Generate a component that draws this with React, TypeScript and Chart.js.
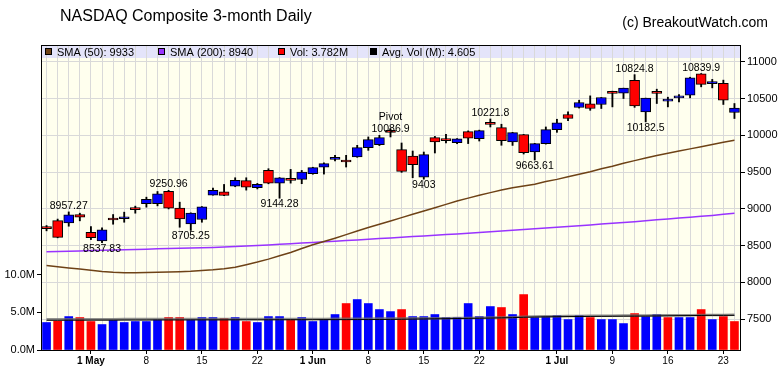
import React, { useEffect, useRef } from 'react';
import { Chart, registerables } from 'chart.js';

Chart.register(...registerables);

const FONT = '"Liberation Sans", Arial, Helvetica, sans-serif';

const dates = [
  '2020-04-27', '2020-04-28', '2020-04-29', '2020-04-30', '2020-05-01', '2020-05-04', '2020-05-05', '2020-05-06',
  '2020-05-07', '2020-05-08', '2020-05-11', '2020-05-12', '2020-05-13', '2020-05-14', '2020-05-15', '2020-05-18',
  '2020-05-19', '2020-05-20', '2020-05-21', '2020-05-22', '2020-05-26', '2020-05-27', '2020-05-28', '2020-05-29',
  '2020-06-01', '2020-06-02', '2020-06-03', '2020-06-04', '2020-06-05', '2020-06-08', '2020-06-09', '2020-06-10',
  '2020-06-11', '2020-06-12', '2020-06-15', '2020-06-16', '2020-06-17', '2020-06-18', '2020-06-19', '2020-06-22',
  '2020-06-23', '2020-06-24', '2020-06-25', '2020-06-26', '2020-06-29', '2020-06-30', '2020-07-01', '2020-07-02',
  '2020-07-06', '2020-07-07', '2020-07-08', '2020-07-09', '2020-07-10', '2020-07-13', '2020-07-14', '2020-07-15',
  '2020-07-16', '2020-07-17', '2020-07-20', '2020-07-21', '2020-07-22', '2020-07-23', '2020-07-24',
];

const opens = [
  8735, 8840, 8809, 8922, 8681, 8563, 8852, 8864, 8992, 9068,
  9068, 9236, 9008, 8795, 8854, 9186, 9232, 9308, 9382, 9286,
  9522, 9349, 9413, 9400, 9477, 9567, 9673, 9659, 9704, 9832,
  9873, 10046, 9805, 9718, 9431, 9968, 9950, 9901, 10050, 9955,
  10152, 10105, 9909, 10009, 9772, 9887, 10077, 10282, 10378, 10427,
  10419, 10575, 10573, 10746, 10318, 10596, 10464, 10508, 10546, 10835,
  10703, 10705, 10310,
];
const highs = [
  8772, 8860, 8957.27, 8940, 8758, 8741, 8922, 8954, 9036, 9158,
  9235, 9250.96, 9090, 8945, 9030, 9280, 9331, 9422, 9422, 9345,
  9545, 9425, 9536, 9522, 9565, 9625, 9727, 9727, 9863, 9977,
  10000, 10086.9, 9895, 9786, 9772, 9985, 10014, 9955, 10060, 10070,
  10221.8, 10150, 10040, 10012, 9890, 10113, 10218, 10318, 10477, 10536,
  10514, 10600, 10641, 10824.8, 10505, 10627, 10518, 10555, 10790, 10839.9,
  10760, 10750, 10432,
];
const lows = [
  8700, 8605, 8763, 8836, 8581, 8537.83, 8790, 8817, 8940, 9022,
  9040, 8998, 8749, 8705.25, 8817, 9185, 9178, 9300, 9254, 9270,
  9340, 9144.28, 9349, 9341, 9470, 9472, 9650, 9568, 9700, 9795,
  9860, 9977, 9495, 9422, 9403, 9759, 9895, 9885, 9887, 9922,
  10113, 9864, 9862, 9745, 9663.61, 9880, 10040, 10200, 10370, 10340,
  10364, 10386, 10500, 10380, 10182.5, 10432, 10386, 10454, 10509, 10659,
  10645, 10419, 10228,
];
const closes = [
  8730, 8612, 8918, 8885, 8608, 8713, 8848, 8884, 8988, 9130,
  9204, 9008, 8863, 8940, 9027, 9252, 9181, 9386, 9295, 9331,
  9349, 9422, 9386, 9500, 9559, 9615, 9695, 9636, 9832, 9941,
  9968, 10040, 9509, 9600, 9737, 9909, 9928, 9950, 9959, 10064,
  10148, 9928, 10036, 9764, 9887, 10077, 10170, 10228, 10446, 10364,
  10514, 10570, 10641, 10400, 10505, 10569, 10491, 10512, 10782, 10692,
  10707, 10477, 10370,
];

// volume in millions
const volumes = [
  3.65, 3.82, 4.44, 4.31, 3.78, 3.38, 3.95, 3.65, 3.78, 3.78,
  4.0, 4.31, 4.31, 4.0, 4.31, 4.31, 4.18, 4.31, 3.78, 3.65,
  4.44, 4.44, 4.04, 4.31, 3.78, 4.04, 4.71, 6.17, 6.7, 6.17,
  5.37, 5.1, 5.37, 4.44, 4.44, 4.71, 4.31, 4.31, 6.17, 4.44,
  5.77, 5.64, 4.71, 7.36, 4.31, 4.44, 4.58, 4.04, 4.58, 4.31,
  4.04, 4.04, 3.51, 4.84, 4.44, 4.71, 4.31, 4.31, 4.31, 5.37,
  4.04, 4.44, 3.782,
];

const sma50 = [
  8230, 8212, 8195, 8180, 8163, 8147, 8135, 8130, 8130, 8133,
  8136, 8140, 8145, 8150, 8160, 8170, 8185, 8205, 8240, 8275,
  8315, 8360, 8405, 8460, 8510, 8555, 8600, 8648, 8697, 8745,
  8790, 8835, 8880, 8925, 8970, 9015, 9060, 9105, 9145, 9185,
  9220, 9255, 9285, 9310, 9335, 9370, 9400, 9435, 9470, 9505,
  9545, 9580, 9620, 9655, 9690, 9725, 9755, 9785, 9815, 9845,
  9875, 9905, 9933,
];
const sma200 = [
  8415, 8419, 8423, 8427, 8431, 8435, 8439, 8443, 8447, 8451,
  8455, 8459, 8463, 8467, 8471, 8475, 8481, 8488, 8495, 8502,
  8509, 8517, 8525, 8533, 8541, 8550, 8559, 8568, 8577, 8586,
  8595, 8604, 8613, 8622, 8631, 8640, 8649, 8658, 8668, 8678,
  8688, 8698, 8708, 8718, 8728, 8738, 8748, 8759, 8770, 8781,
  8792, 8803, 8814, 8825, 8836, 8850, 8862, 8874, 8886, 8898,
  8910, 8925, 8940,
];
const avgVol = [
  3.95, 3.95, 3.96, 3.96, 3.97, 3.97, 3.97, 3.98, 3.98, 3.98,
  3.99, 3.99, 3.99, 4.0, 4.0, 4.0, 4.0, 4.01, 4.01, 4.01,
  4.01, 4.02, 4.02, 4.02, 4.02, 4.03, 4.03, 4.03, 4.04, 4.04,
  4.05, 4.06, 4.08, 4.1, 4.12, 4.14, 4.16, 4.18, 4.2, 4.22,
  4.24, 4.27, 4.3, 4.35, 4.38, 4.4, 4.42, 4.44, 4.45, 4.46,
  4.47, 4.48, 4.49, 4.5, 4.51, 4.52, 4.54, 4.56, 4.57, 4.59,
  4.6, 4.6, 4.605,
];
const avgVolSlow = [
  4.08, 4.08, 4.08, 4.09, 4.09, 4.09, 4.09, 4.1, 4.1, 4.1,
  4.1, 4.1, 4.11, 4.11, 4.11, 4.11, 4.11, 4.12, 4.12, 4.12,
  4.12, 4.12, 4.13, 4.13, 4.13, 4.13, 4.14, 4.14, 4.15, 4.16,
  4.17, 4.18, 4.19, 4.2, 4.21, 4.22, 4.23, 4.24, 4.26, 4.28,
  4.3, 4.33, 4.36, 4.42, 4.45, 4.47, 4.49, 4.51, 4.53, 4.54,
  4.55, 4.56, 4.57, 4.58, 4.59, 4.6, 4.61, 4.62, 4.63, 4.64,
  4.65, 4.66, 4.67,
];

const tickDates = [
  '2020-05-01', '2020-05-08', '2020-05-15', '2020-05-22', '2020-06-01', '2020-06-08',
  '2020-06-15', '2020-06-22', '2020-07-01', '2020-07-09', '2020-07-16', '2020-07-23',
];
const tickTexts = ['1 May', '8', '15', '22', '1 Jun', '8', '15', '22', '1 Jul', '9', '16', '23'];
const priceTicks = [7500, 8000, 8500, 9000, 9500, 10000, 10500, 11000];
const volTicks = [0, 5, 10];

const annIdx = [2, 5, 11, 13, 21, 31, 34, 40, 44, 53, 54, 59];
const annSide = ['H', 'L', 'H', 'L', 'L', 'H', 'L', 'H', 'L', 'H', 'L', 'H'];
const pivotIdx = 31;

const BLUE = '#0000ff';
const RED = '#ff0000';
const BROWN = '#6e4216';
const PURPLE = '#9933ff';

function tickLabel(i: number): string {
  const k = tickDates.indexOf(dates[i]);
  return k >= 0 ? tickTexts[k] : '';
}

function fmt(v: number): string {
  return String(Number(v.toPrecision(6)));
}

const decor = {
  id: 'decor',
  beforeDraw(chart: any) {
    const { ctx, chartArea: a } = chart;
    ctx.save();
    ctx.fillStyle = '#ffffff';
    ctx.fillRect(0, 0, chart.width, chart.height);
    ctx.fillStyle = '#ffffee';
    ctx.fillRect(a.left, a.top, a.right - a.left, a.bottom - a.top);
    ctx.fillStyle = '#e4e4fa';
    ctx.fillRect(a.left, a.top, a.right - a.left, 13);
    ctx.restore();
  },
  afterDatasetsDraw(chart: any) {
    const { ctx } = chart;
    const xs = chart.scales.x;
    const ys = chart.scales.price;
    ctx.save();
    ctx.fillStyle = '#000';
    ctx.textAlign = 'center';
    ctx.textBaseline = 'alphabetic';
    ctx.font = `10.5px ${FONT}`;
    annIdx.forEach((idx, k) => {
      const side = annSide[k];
      const v = side === 'H' ? highs[idx] : lows[idx];
      const px = xs.getPixelForValue(idx);
      const py = ys.getPixelForValue(v);
      const txt = fmt(v);
      if (side === 'H') {
        if (idx === pivotIdx) {
          ctx.fillText(txt, px, py + 3);
          ctx.fillText('Pivot', px, py - 9);
        } else {
          ctx.fillText(txt, px, py - 3);
        }
      } else {
        ctx.fillText(txt, px, py + 9);
      }
    });
    ctx.restore();
  },
  afterDraw(chart: any) {
    const { ctx, chartArea: a } = chart;
    ctx.save();
    ctx.strokeStyle = '#000';
    ctx.lineWidth = 1;
    ctx.beginPath();
    ctx.moveTo(a.left, Math.round(a.top) + 0.5);
    ctx.lineTo(a.right, Math.round(a.top) + 0.5);
    ctx.stroke();

    ctx.fillStyle = '#000';
    ctx.textBaseline = 'alphabetic';
    ctx.textAlign = 'left';
    ctx.font = `16px ${FONT}`;
    ctx.fillText('NASDAQ Composite 3-month Daily', 60, 21);
    ctx.textAlign = 'right';
    ctx.font = `14px ${FONT}`;
    ctx.fillText('(c) BreakoutWatch.com', 768, 27);

    const n = closes.length - 1;
    const items = [
      { c: BROWN, t: `SMA (50): ${sma50[n]}`, x: 45 },
      { c: PURPLE, t: `SMA (200): ${sma200[n]}`, x: 158 },
      { c: RED, t: `Vol: ${volumes[n].toFixed(3)}M`, x: 278 },
      { c: '#000', t: `Avg. Vol (M): ${avgVol[n].toFixed(3)}`, x: 370 },
    ];
    ctx.textAlign = 'left';
    ctx.font = `11px ${FONT}`;
    items.forEach((it) => {
      ctx.fillStyle = it.c;
      ctx.fillRect(it.x, a.top + 3, 7, 7);
      ctx.strokeStyle = '#000';
      ctx.strokeRect(it.x + 0.5, a.top + 3.5, 6, 6);
      ctx.fillStyle = '#000';
      ctx.fillText(it.t, it.x + 12, a.top + 11);
    });
    ctx.restore();
  },
};

export default function App() {
  const ref = useRef<HTMLCanvasElement | null>(null);

  useEffect(() => {
    document.body.style.margin = '0';
    const canvas = ref.current;
    if (!canvas) return;

    const bodyColors = closes.map((c, i) => (c >= opens[i] ? BLUE : RED));
    const volColors = closes.map((c, i) => (i === 0 || c >= closes[i - 1] ? BLUE : RED));

    const chart = new Chart(canvas, {
      type: 'bar',
      data: {
        labels: dates,
        datasets: [
          {
            type: 'bar',
            label: 'body',
            data: opens.map((o, i) => [o, closes[i]]) as any,
            yAxisID: 'price',
            backgroundColor: bodyColors,
            borderColor: '#000',
            borderWidth: 1,
            borderSkipped: false,
            barThickness: 10,
            minBarLength: 2,
            grouped: false,
            order: 0,
          } as any,
          {
            type: 'bar',
            label: 'wick',
            data: lows.map((l, i) => [l, highs[i]]) as any,
            yAxisID: 'price',
            backgroundColor: '#000',
            borderWidth: 0,
            barThickness: 1.2,
            grouped: false,
            order: 1,
          } as any,
          {
            type: 'line',
            label: 'SMA (50)',
            data: sma50,
            yAxisID: 'price',
            borderColor: BROWN,
            borderWidth: 1.5,
            pointRadius: 0,
            tension: 0,
            order: 2,
          } as any,
          {
            type: 'line',
            label: 'SMA (200)',
            data: sma200,
            yAxisID: 'price',
            borderColor: PURPLE,
            borderWidth: 1.5,
            pointRadius: 0,
            tension: 0,
            order: 2,
          } as any,
          {
            type: 'line',
            label: 'Avg Vol slow',
            data: avgVolSlow,
            yAxisID: 'vol',
            borderColor: 'rgba(110,110,110,0.75)',
            borderWidth: 2.5,
            pointRadius: 0,
            tension: 0,
            order: 4,
          } as any,
          {
            type: 'line',
            label: 'Avg. Vol (M)',
            data: avgVol,
            yAxisID: 'vol',
            borderColor: '#000',
            borderWidth: 1,
            pointRadius: 0,
            tension: 0,
            order: 3,
          } as any,
          {
            type: 'bar',
            label: 'Vol',
            data: volumes,
            yAxisID: 'vol',
            backgroundColor: volColors,
            borderWidth: 0,
            barThickness: 8,
            grouped: false,
            order: 5,
          } as any,
        ],
      },
      options: {
        responsive: false,
        animation: false,
        devicePixelRatio: 1,
        layout: { padding: { top: 45, left: 0, right: 0, bottom: 0 } },
        plugins: {
          legend: { display: false },
          title: { display: false },
          tooltip: { enabled: false },
        },
        scales: {
          x: {
            type: 'category',
            offset: true,
            grid: {
              offset: false,
              color: '#d9d9d9',
              lineWidth: 1,
              drawTicks: true,
              tickLength: 4,
              tickColor: (c: any) => (tickLabel(c.index) ? '#000' : 'rgba(0,0,0,0)'),
            },
            border: { display: true, color: '#000', width: 1 },
            ticks: {
              autoSkip: false,
              maxRotation: 0,
              minRotation: 0,
              padding: 1,
              color: '#000',
              font: (c: any) => ({
                family: FONT,
                size: 10,
                weight: /[A-Za-z]/.test(tickLabel(c.index)) ? 'bold' : 'normal',
              }),
              callback: (_v: any, i: number) => tickLabel(i),
            },
            afterFit: (s: any) => {
              s.height = 26;
            },
          },
          price: {
            type: 'linear',
            position: 'right',
            min: 7079,
            max: 11228,
            afterBuildTicks: (s: any) => {
              s.ticks = priceTicks.map((v) => ({ value: v }));
            },
            grid: {
              color: '#d9d9d9',
              tickColor: '#000',
              tickLength: 5,
            },
            border: { display: true, color: '#000', width: 1 },
            ticks: {
              color: '#000',
              padding: 2,
              font: { family: FONT, size: 11 },
              callback: (v: any) => String(v),
            },
            afterFit: (s: any) => {
              s.width = 40;
            },
          },
          vol: {
            type: 'linear',
            position: 'left',
            min: 0,
            max: 40.5,
            afterBuildTicks: (s: any) => {
              s.ticks = volTicks.map((v) => ({ value: v }));
            },
            grid: {
              drawOnChartArea: false,
              tickLength: 4,
              color: '#000',
              tickColor: '#000',
            },
            border: { display: true, color: '#000', width: 1 },
            ticks: {
              color: '#000',
              padding: 2,
              font: { family: FONT, size: 11 },
              callback: (v: any) => `${Number(v).toFixed(1)}M`,
            },
            afterFit: (s: any) => {
              s.width = 41;
            },
          },
        },
      } as any,
      plugins: [decor],
    });

    return () => chart.destroy();
  }, []);

  return (
    <div style={{ position: 'absolute', left: 0, top: 0, width: 780, height: 376 }}>
      <canvas ref={ref} width={780} height={376} style={{ width: 780, height: 376, display: 'block' }} />
    </div>
  );
}
